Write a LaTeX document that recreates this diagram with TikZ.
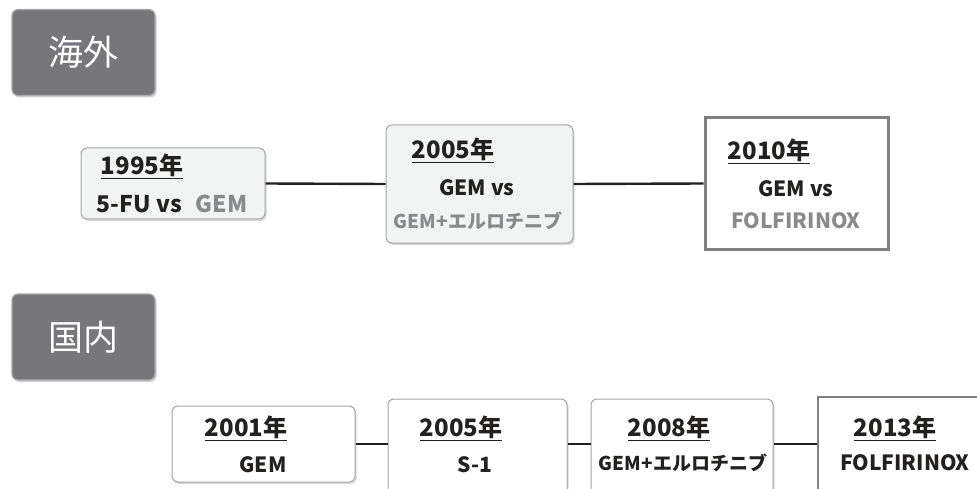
\documentclass[tikz,border=0pt]{standalone}
\usepackage{fontspec}
\setmainfont{Noto Sans CJK JP}
\usetikzlibrary{positioning,calc,shadows}
\definecolor{tabgray}{RGB}{118,118,123}
\definecolor{tabedge}{RGB}{170,170,174}
\definecolor{boxfill}{RGB}{242,243,243}
\definecolor{boxline}{RGB}{165,165,168}
\definecolor{framegray}{RGB}{128,128,130}
\definecolor{softgray}{RGB}{138,138,140}
\definecolor{linkblack}{RGB}{35,32,32}
\tikzset{
  tabbox/.style={rounded corners=6pt, fill=tabgray, draw=tabedge, line width=1.2pt,
                 minimum width=143pt, minimum height=86pt, text=white,
                 font=\fontsize{35}{35}\selectfont,
                 drop shadow={opacity=0.35, shadow xshift=1.5pt, shadow yshift=-2pt}},
  ybox/.style={rounded corners=6pt, draw=boxline, fill=boxfill, line width=1pt,
               drop shadow={opacity=0.3, shadow xshift=1.5pt, shadow yshift=-2pt}},
  wbox/.style={ybox, fill=white},
  fbox/.style={draw=framegray, fill=white, line width=3pt},
  year/.style={inner sep=0pt, font=\bfseries\fontsize{24}{24}\selectfont, text=linkblack},
  item/.style={inner sep=0pt, font=\bfseries\fontsize{21}{21}\selectfont, text=linkblack},
  itemg/.style={item, text=softgray},
  link/.style={line width=2.4pt, draw=linkblack},
}
\newcommand{\yr}[1]{\underline{#1年}}

\begin{document}
\begin{tikzpicture}[x=1pt, y=-1pt]
  \useasboundingbox[fill=white] (0,0) rectangle (977,489);

  % 海外
  \node[tabbox] (tabA) at (83.5,52.5) {海外};
  \node[ybox, minimum width=184pt, minimum height=71pt] (a95) at (173,183.5) {};
  \node[ybox, minimum width=187pt, minimum height=118pt] (a05) at (479.5,184) {};
  \node[fbox, minimum width=183pt, minimum height=131pt] (a10) at (796.5,183.5) {};
  \draw[link] (a95.east) -- (a05.west);
  \draw[link] (a05.east) -- (a10.west);

  \node[year] (a95y) at (142,166) {\yr{1995}};
  \node[item, font=\bfseries\fontsize{23}{23}\selectfont] (a95t) at (172,204) {5-FU vs\hspace{14pt}\textcolor{softgray}{GEM}};
  \node[year] (a05y) at (453,150) {\yr{2005}};
  \node[item] (a05t) at (477,188) {GEM vs};
  \node[itemg, font=\bfseries\fontsize{19}{19}\selectfont] (a05u) at (478,221) {GEM+エルロチニブ};
  \node[year] (a10y) at (769,151) {\yr{2010}};
  \node[item] (a10t) at (796,189) {GEM vs};
  \node[itemg] (a10u) at (796,221) {FOLFIRINOX};

  % 国内
  \node[tabbox] (tabB) at (83.5,337) {国内};
  \node[wbox, minimum width=183pt, minimum height=76pt] (b01) at (263.5,444) {};
  \node[wbox, minimum width=179pt, minimum height=110pt] (b05) at (477.5,454) {};
  \node[wbox, minimum width=182pt, minimum height=110pt] (b08) at (682,454) {};
  \node[fbox, line width=2.4pt, minimum width=180pt, minimum height=110pt] (b13) at (908,452) {};
  \draw[link] (b01.east) -- (b01.east -| b05.west);
  \draw[link] (b05.east |- b01.east) -- (b01.east -| b08.west);
  \draw[link] (b08.east |- b01.east) -- (b01.east -| b13.west);

  \node[year] (b01y) at (246,428) {\yr{2001}};
  \node[item] (b01t) at (263,465) {GEM};
  \node[year] (b05y) at (461,428) {\yr{2005}};
  \node[item] (b05t) at (475,465) {S-1};
  \node[year] (b08y) at (669,428) {\yr{2008}};
  \node[item, font=\bfseries\fontsize{19}{19}\selectfont] (b08t) at (683,463) {GEM+エルロチニブ};
  \node[year] (b13y) at (895,428) {\yr{2013}};
  \node[item] (b13t) at (905,463) {FOLFIRINOX};
\end{tikzpicture}
\end{document}
